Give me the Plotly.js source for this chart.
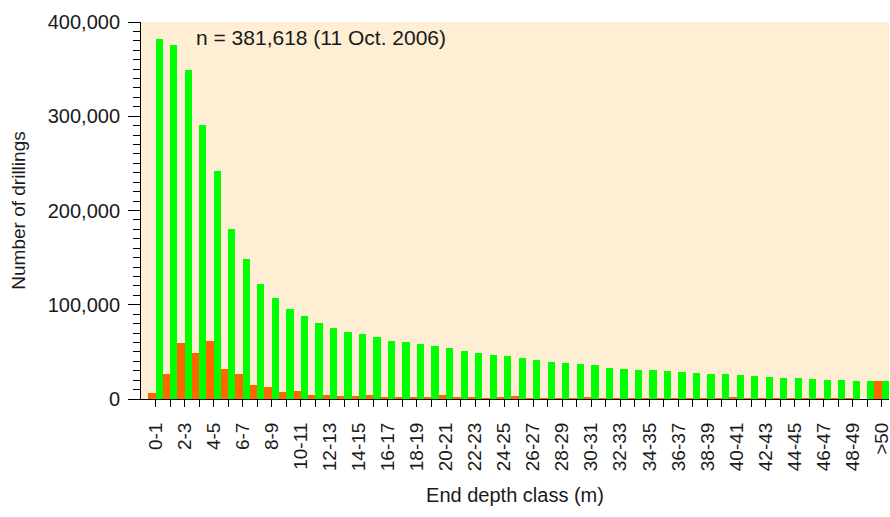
<!DOCTYPE html>
<html>
<head>
<meta charset="utf-8">
<script src="https://cdn.plot.ly/plotly-3.0.1.min.js"></script>
<style>html,body{margin:0;padding:0;background:#fff;}#chart{width:890px;height:517px;}</style>
</head>
<body>
<div id="chart"></div>
<script>
var categories = ["0-1","1-2","2-3","3-4","4-5","5-6","6-7","7-8","8-9","9-10",
  "10-11","11-12","12-13","13-14","14-15","15-16","16-17","17-18","18-19","19-20",
  "20-21","21-22","22-23","23-24","24-25","25-26","26-27","27-28","28-29","29-30",
  "30-31","31-32","32-33","33-34","34-35","35-36","36-37","37-38","38-39","39-40",
  "40-41","41-42","42-43","43-44","44-45","45-46","46-47","47-48","48-49","49-50",">50"];

// drillings ending within the depth class (orange)
var inClass = [6500,27000,59500,49000,61500,32000,26500,15000,13000,7500,
  8500,4500,4500,3500,3500,4200,2100,2100,2100,2000,
  4000,2000,2000,1000,2000,3000,1000,1000,1000,1000,
  2500,1000,1000,1000,1000,1000,1000,1000,1000,1000,
  2000,1000,1000,1000,1000,1000,1000,1000,1000,500,19200];

// drillings reaching at least the class (green)
var reaching = [381618,375500,349000,290500,241500,180000,148500,122000,107000,95000,
  88500,80500,75500,71500,68500,66000,62000,60000,58000,56000,
  54500,50500,48500,46500,45500,44000,41000,39500,38000,37000,
  36000,33000,32000,31000,30500,29500,28500,27500,27000,26500,
  25500,24000,23300,22300,22000,21200,20300,20000,19400,19200,19000];

var tickText = categories.map(function(c, i){ return i % 2 === 0 ? c : ""; });

var FONT = "Liberation Sans, Arial, Helvetica, sans-serif";
var TXT = "#1a1a1a";

var data = [
  {type:"bar", x:categories, y:inClass, marker:{color:"#FF6600", line:{width:0}}, hoverinfo:"x+y"},
  {type:"bar", x:categories, y:reaching, marker:{color:"#00FF00", line:{width:0}}, hoverinfo:"x+y"}
];

var layout = {
  width:890, height:517,
  margin:{l:141, r:1, t:22, b:118},
  paper_bgcolor:"#ffffff",
  plot_bgcolor:"#FDEED4",
  showlegend:false,
  barmode:"group", bargap:0, bargroupgap:0,
  font:{family:FONT, size:20, color:TXT},
  xaxis:{
    type:"category",
    range:[-1, 50.5],
    tickmode:"array", tickvals:categories, ticktext:tickText,
    tickangle:-90,
    ticks:"outside", ticklen:7, tickwidth:1, tickcolor:"#000",
    ticklabelstandoff:8,
    showline:true, linecolor:"#000", linewidth:1,
    showgrid:false, zeroline:false,
    tickfont:{family:FONT, size:19, color:TXT},
    title:{text:"End depth class (m)", font:{family:FONT, size:20, color:TXT}, standoff:17},
    automargin:false
  },
  yaxis:{
    range:[0, 400000],
    tickmode:"linear", tick0:0, dtick:100000,
    tickformat:",d",
    ticks:"outside", ticklen:12, tickwidth:1, tickcolor:"#000",
    ticklabelstandoff:4,
    minor:{ticks:"outside", ticklen:7, dtick:10000, tickcolor:"#000", tickwidth:1, showgrid:false},
    showline:true, linecolor:"#000", linewidth:1,
    showgrid:false, zeroline:false,
    tickfont:{family:FONT, size:20, color:TXT},
    title:{text:"Number of drillings", font:{family:FONT, size:19, color:TXT}, standoff:17},
    automargin:false
  },
  annotations:[{
    xref:"paper", yref:"paper", x:0.071, y:0.959,
    xanchor:"left", yanchor:"middle", showarrow:false,
    text:"n = 381,618 (11 Oct. 2006)",
    font:{family:FONT, size:21, color:TXT}
  }]
};

Plotly.newPlot("chart", data, layout, {displayModeBar:false, staticPlot:true});
</script>
</body>
</html>
